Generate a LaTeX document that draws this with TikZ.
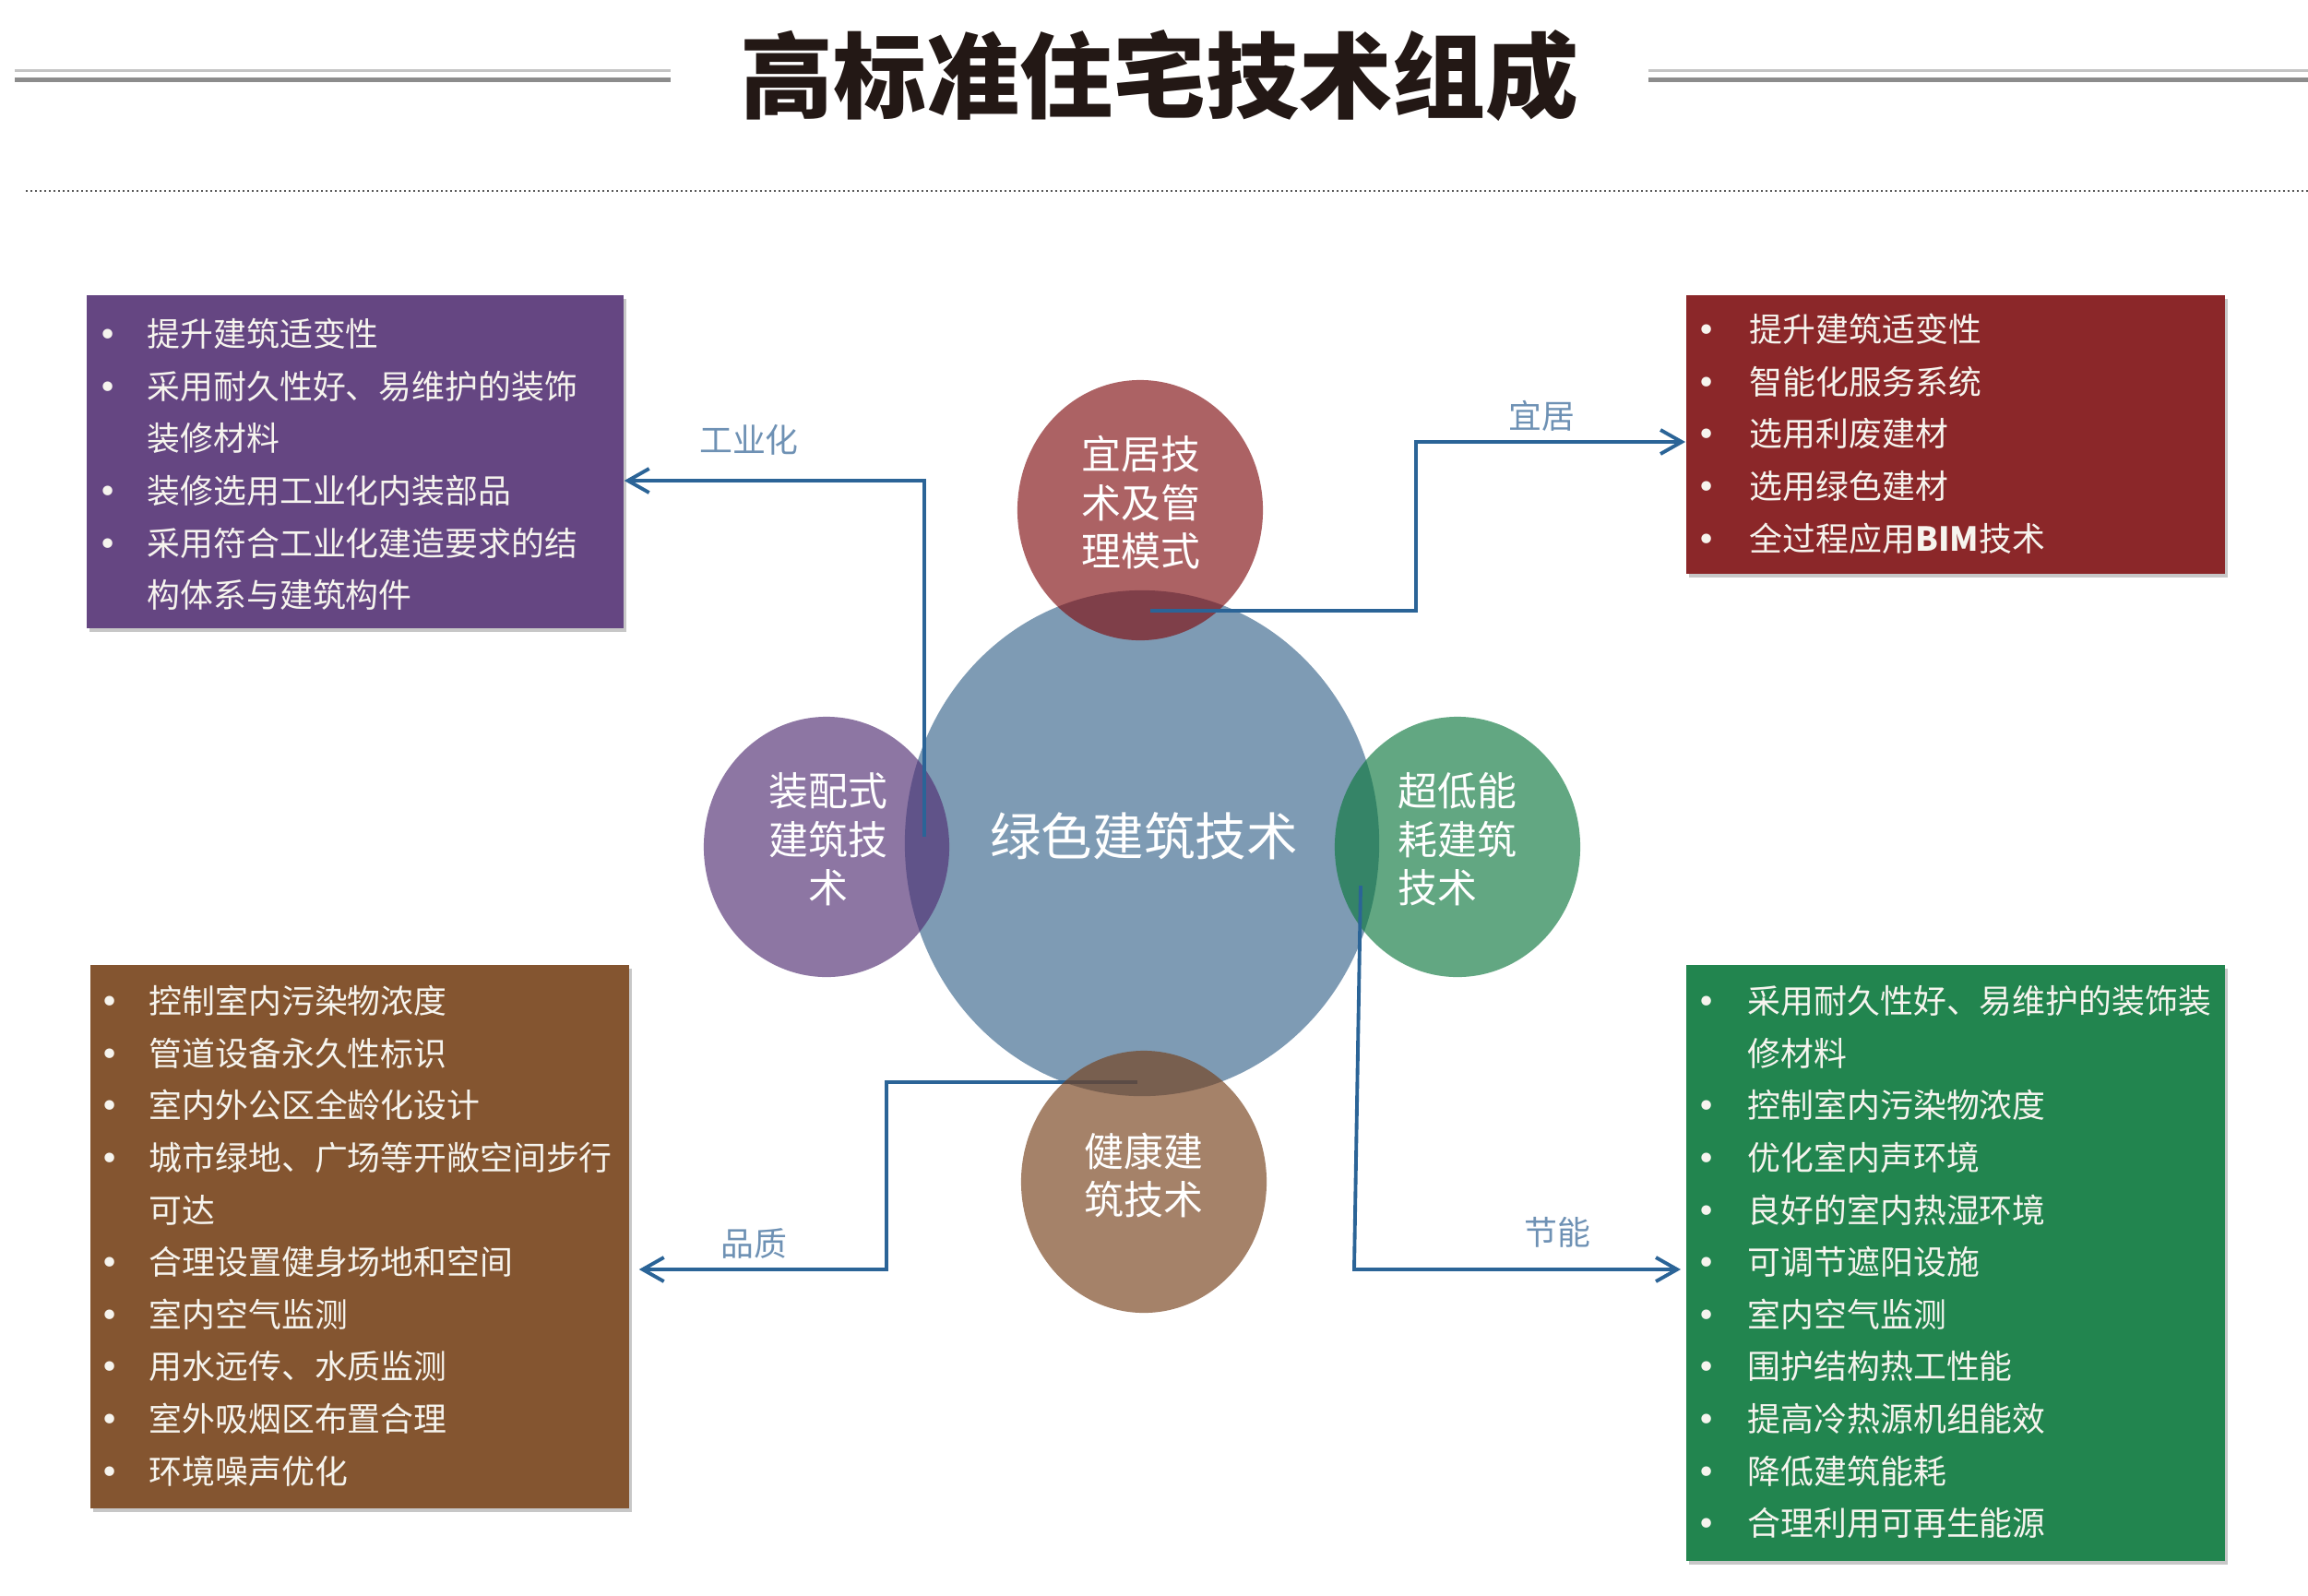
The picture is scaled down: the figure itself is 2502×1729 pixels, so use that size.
\documentclass[tikz,border=0pt]{standalone}
\usepackage{fontspec}
\setmainfont{Noto Sans CJK SC}
\newfontfamily\dejavu{DejaVu Sans}
\usetikzlibrary{arrows.meta,shadows,shapes.geometric}
\definecolor{colP}{RGB}{101,70,130}
\definecolor{colR}{RGB}{139,39,41}
\definecolor{colB}{RGB}{132,85,48}
\definecolor{colG}{RGB}{34,133,79}
\definecolor{cBlue}{RGB}{126,155,180}
\definecolor{cRed}{RGB}{129,14,17}
\definecolor{cPur}{RGB}{81,45,115}
\definecolor{cGrn}{RGB}{14,121,63}
\definecolor{cBrn}{RGB}{118,63,26}
\definecolor{connC}{RGB}{43,100,151}
\definecolor{labC}{RGB}{110,145,180}
\definecolor{ttlC}{RGB}{35,24,21}
\definecolor{txtC}{RGB}{246,244,238}
\newcommand\bul[1]{\makebox[#1][l]{{\dejavu •}}}
\tikzset{
  infobox/.style={rectangle, inner sep=0, anchor=north west, draw=none,
    drop shadow={shadow xshift=0.03cm, shadow yshift=-0.04cm, opacity=0.22, fill=black}},
  btext/.style={inner sep=0, anchor=base west, text=txtC, font=\fontsize{10.2}{16.1}\selectfont},
  smallc/.style={ellipse, inner sep=0, minimum width=2.66cm, minimum height=2.82cm, fill opacity=0.65, draw=none},
  ctext/.style={inner sep=0, text=white, align=center, font=\fontsize{12.2}{14.9}\selectfont},
  connline/.style={draw=connC, line width=1.1pt, -{Straight Barb[length=0.23cm, width=0.26cm]}},
  conlab/.style={inner sep=0, text=labC, font=\fontsize{10.2}{12}\selectfont},
}
\begin{document}
\begin{tikzpicture}[x=0.01cm, y=-0.01cm]
\useasboundingbox (0,0) rectangle (2502,1729);
\fill[white] (0,0) rectangle (2502,1729);

% title and rules
\node[inner sep=0, text=ttlC, font=\bfseries\fontsize{28.7}{32}\selectfont] (title) at (1257,82) {高标准住宅技术组成};
\draw[line width=0.03cm, color={rgb,255:red,196;green,196;blue,196}] (16,76) -- (727,76);
\draw[line width=0.05cm, color={rgb,255:red,140;green,140;blue,140}] (16,86) -- (727,86);
\draw[line width=0.03cm, color={rgb,255:red,196;green,196;blue,196}] (1787,76) -- (2502,76);
\draw[line width=0.05cm, color={rgb,255:red,140;green,140;blue,140}] (1787,86) -- (2502,86);
\draw[line width=0.025cm, color={rgb,255:red,90;green,90;blue,90}, dash pattern=on 0.02cm off 0.03cm] (28,207) -- (2502,207);

% boxes
\node[infobox, fill=colP, minimum width=5.82cm, minimum height=3.61cm] (pbox) at (93,319) {};
\node[infobox, fill=colR, minimum width=5.84cm, minimum height=3.02cm] (rbox) at (1827,319) {};
\node[infobox, fill=colB, minimum width=5.84cm, minimum height=5.89cm] (bbox) at (97,1045) {};
\node[infobox, fill=colG, minimum width=5.84cm, minimum height=6.46cm] (gbox) at (1827,1045) {};

\node[btext] (ptext) at (105.5,375.6) {\parbox[t]{5.9cm}{%
\bul{15.2pt}提升建筑适变性\\
\bul{15.2pt}采用耐久性好、易维护的装饰\\
\hspace*{15.2pt}装修材料\\
\bul{15.2pt}装修选用工业化内装部品\\
\bul{15.2pt}采用符合工业化建造要求的结\\
\hspace*{15.2pt}构体系与建筑构件}};

\node[btext] (rtext) at (1838.5,370.6) {\parbox[t]{5.9cm}{%
\bul{16.4pt}提升建筑适变性\\
\bul{16.4pt}智能化服务系统\\
\bul{16.4pt}选用利废建材\\
\bul{16.4pt}选用绿色建材\\
\bul{16.4pt}全过程应用{\bfseries BIM}技术}};

\node[btext] (btxt) at (107.5,1098.6) {\parbox[t]{5.9cm}{%
\bul{15.2pt}控制室内污染物浓度\\
\bul{15.2pt}管道设备永久性标识\\
\bul{15.2pt}室内外公区全龄化设计\\
\bul{15.2pt}城市绿地、广场等开敞空间步行\\
\hspace*{15.2pt}可达\\
\bul{15.2pt}合理设置健身场地和空间\\
\bul{15.2pt}室内空气监测\\
\bul{15.2pt}用水远传、水质监测\\
\bul{15.2pt}室外吸烟区布置合理\\
\bul{15.2pt}环境噪声优化}};

\node[btext] (gtext) at (1838.5,1098.6) {\parbox[t]{5.9cm}{%
\bul{15.8pt}采用耐久性好、易维护的装饰装\\
\hspace*{15.8pt}修材料\\
\bul{15.8pt}控制室内污染物浓度\\
\bul{15.8pt}优化室内声环境\\
\bul{15.8pt}良好的室内热湿环境\\
\bul{15.8pt}可调节遮阳设施\\
\bul{15.8pt}室内空气监测\\
\bul{15.8pt}围护结构热工性能\\
\bul{15.8pt}提高冷热源机组能效\\
\bul{15.8pt}降低建筑能耗\\
\bul{15.8pt}合理利用可再生能源}};

% circles
\node[ellipse, inner sep=0, minimum width=5.14cm, minimum height=5.48cm, fill=cBlue, draw=none] (core) at (1238,914) {};
\node[smallc, fill=cRed] (cred) at (1236,553) {};
\node[smallc, fill=cPur] (cpur) at (896,918) {};
\node[smallc, fill=cGrn] (cgrn) at (1580,918) {};

% connector under the brown circle
\coordinate (pzA) at (1233,1173);
\coordinate (pzB) at (961,1173);
\coordinate (pzC) at (961,1376);
\draw[connline, shorten >=0.1cm] (pzA) -- (pzB) -- (pzC) -- (pzC -| bbox.east);

\node[smallc, fill=cBrn, minimum height=2.84cm] (cbrn) at (1240,1281) {};

% other connectors
\coordinate (gyA) at (1002,907);
\coordinate (gyB) at (1002,521);
\draw[connline] (gyA) -- (gyB) -- (gyB -| pbox.east);

\coordinate (yjA) at (1247,662);
\coordinate (yjB) at (1535,662);
\coordinate (yjC) at (1535,479);
\draw[connline] (yjA) -- (yjB) -- (yjC) -- (yjC -| rbox.west);

\coordinate (jnA) at (1475,960);
\coordinate (jnB) at (1468,1376);
\draw[connline, shorten >=0.05cm] (jnA) -- (jnB) -- (jnB -| gbox.west);

% connector labels
\node[conlab] (lgy) at (812,477) {工业化};
\node[conlab] (lyj) at (1671,451) {宜居};
\node[conlab] (lpz) at (817,1348) {品质};
\node[conlab] (ljn) at (1688,1336) {节能};

% circle texts
\node[inner sep=0, text=white, font=\fontsize{15.8}{19}\selectfont] (tcore) at (1240,906) {绿色建筑技术};
\node[ctext] (tred) at (1237,545) {宜居技\\术及管\\理模式};
\node[ctext] (tpur) at (898,910) {装配式\\建筑技\\术};
\node[ctext, align=left, anchor=west] (tgrn) at (1515,910) {超低能\\耗建筑\\技术};
\node[ctext] (tbrn) at (1240,1274) {健康建\\筑技术};
\end{tikzpicture}
\end{document}
